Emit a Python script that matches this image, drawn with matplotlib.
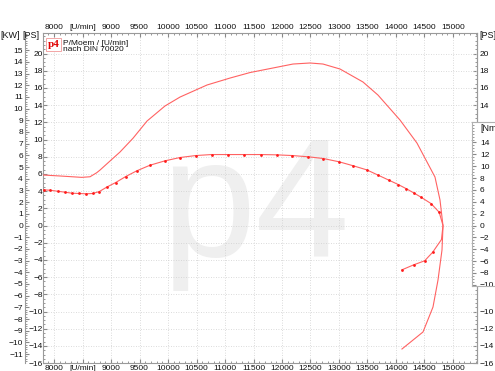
import matplotlib.pyplot as plt
from matplotlib.ticker import MultipleLocator, FixedLocator

plt.rcParams['font.family'] = ['Liberation Sans', 'DejaVu Sans']
plt.rcParams['font.size'] = 6

# Leistung [PS] ueber Drehzahl [U/min]
power_rpm = [7815, 8105, 8486, 8632, 8749, 8807, 8982, 9158, 9386, 9632, 9947, 10211,
             10684, 11088, 11439, 12193, 12491, 12719, 13018, 13421, 13684, 14070,
             14368, 14684, 14772, 14825, 14807, 14737, 14649, 14474, 14105]
power_ps = [5.87, 5.76, 5.60, 5.67, 6.14, 6.45, 7.50, 8.55, 10.15, 12.15, 13.9, 14.94,
            16.34, 17.15, 17.79, 18.78, 18.90, 18.78, 18.20, 16.69, 15.17, 12.27,
            9.59, 5.64, 2.97, -0.06, -2.85, -6.34, -9.48, -12.38, -14.36]

# Drehmoment [Nm] ueber Drehzahl [U/min]
torque_rpm = [7820, 7930, 8065, 8193, 8316, 8439, 8556, 8679, 8795, 8935, 9082, 9258,
              9451, 9684, 9947, 10211, 10486, 10767, 11047, 11339, 11626, 11907, 12181,
              12461, 12725, 13005, 13251, 13486, 13690, 13877, 14040, 14184, 14316,
              14433, 14614, 14758, 14825, 14798, 14644, 14503, 14316, 14105]
torque_nm = [6.02, 5.95, 5.78, 5.62, 5.45, 5.40, 5.35, 5.40, 5.73, 6.53, 7.25, 8.26,
             9.22, 10.17, 10.91, 11.47, 11.80, 11.97, 11.97, 11.97, 11.97, 11.92, 11.80,
             11.59, 11.30, 10.74, 10.07, 9.39, 8.48, 7.64, 6.91, 6.19, 5.48,
             4.81, 3.71, 2.24, 0.0, -2.36, -4.50, -5.95, -6.61, -7.47]
torque_marked = [i for i in range(len(torque_rpm)) if i not in (36, 37)]

rpm_ticks = list(range(8000, 15001, 500))
rpm_labels = [str(r) for r in rpm_ticks]
rpm_labels[1] = "[U/min]"

ps_ticks = list(range(-16, 21, 2))
ps_right_ticks = [20, 18, 16, 14, -10, -12, -14, -16]
kw_ticks = list(range(-11, 16))
nm_ticks = list(range(-10, 15, 2))

W, H = 495, 371
TXT = '#111111'
fig = plt.figure(figsize=(W / 100, H / 100), dpi=100)


def fx(px):
    return px / W


def fy(py):
    return 1 - py / H


# pixel scale: 0 at y=225.5, 8.6 px per PS, 5.93 px per Nm
ps_lo, ps_hi = -16, 22.4
ax = fig.add_axes([fx(43.3), fy(363.1), fx(476.7) - fx(43.3), fy(32.9) - fy(363.1)])
ax.set_xlim(7812, 15416)
ax.set_ylim(ps_lo, ps_hi)
for s in ax.spines.values():
    s.set_color('#9a9a9a')
    s.set_linewidth(0.8)

ax.xaxis.set_major_locator(FixedLocator(rpm_ticks))
ax.set_xticklabels(rpm_labels)
ax.xaxis.set_minor_locator(MultipleLocator(100))
ax.tick_params(axis='x', which='both', top=True, labeltop=True, bottom=True,
               labelbottom=True, direction='in', pad=1.2, colors='#888', labelcolor=TXT)
ax.tick_params(axis='x', which='major', length=3)
ax.tick_params(axis='x', which='minor', length=1.5)

ax.yaxis.set_major_locator(FixedLocator(ps_ticks))
ax.yaxis.set_minor_locator(MultipleLocator(0.5))
ax.tick_params(axis='y', which='both', direction='in', pad=0.5, colors='#888', labelcolor=TXT)
ax.tick_params(axis='y', which='major', length=3)
ax.tick_params(axis='y', which='minor', length=1.5)
ax.grid(True, color='#cfcfcf', linestyle=(0, (1, 2)), linewidth=0.6)

# KW axis on the far left
kw = ax.secondary_yaxis(-0.0422, functions=(lambda p: p * 0.7355, lambda k: k / 0.7355))
kw.yaxis.set_major_locator(FixedLocator(kw_ticks))
kw.yaxis.set_minor_locator(MultipleLocator(0.2))
kw.spines['left'].set_color('#9a9a9a')
kw.tick_params(axis='y', which='both', direction='in', pad=1.5, colors='#888', labelcolor=TXT)
kw.tick_params(axis='y', which='major', length=3)
kw.tick_params(axis='y', which='minor', length=1.5)

# PS scale on the right
psr = ax.secondary_yaxis('right')
psr.yaxis.set_major_locator(FixedLocator(ps_right_ticks))
psr.yaxis.set_minor_locator(MultipleLocator(0.5))
psr.spines['right'].set_color('#9a9a9a')
psr.tick_params(axis='y', which='both', direction='in', pad=2, colors='#888', labelcolor=TXT)
psr.tick_params(axis='y', which='major', length=3)
psr.tick_params(axis='y', which='minor', length=1.5)

# watermark
ax.text(fx(255), fy(256), "p4", transform=fig.transFigure, fontsize=122,
        color='#efefef', ha='center', va='baseline', zorder=0.5)

# power curve
ax.plot(power_rpm, power_ps, color='#ff6262', linewidth=0.8, zorder=3)

# torque curve on Nm scale
axt = ax.twinx()
axt.set_ylim(ps_lo * 8.6 / 5.93, ps_hi * 8.6 / 5.93)
axt.set_yticks([])
for s in axt.spines.values():
    s.set_visible(False)
axt.plot(torque_rpm, torque_nm, color='#ff6262', linewidth=0.8,
         marker='o', markersize=2, markerfacecolor='#ff1a1a', markeredgewidth=0,
         markevery=torque_marked)

# Nm box on the right
box = fig.add_axes([fx(471.7), fy(286), fx(40), fy(122) - fy(286)])
box.set_zorder(5)
box.set_facecolor('white')
box.set_xlim(0, 1)
box.set_ylim((225.5 - 286) / 5.93, (225.5 - 122) / 5.93)
box.set_xticks([])
box.yaxis.set_major_locator(FixedLocator(nm_ticks))
box.yaxis.set_minor_locator(MultipleLocator(0.5))
box.tick_params(axis='y', which='both', direction='in', pad=-6, colors='#888', labelcolor=TXT)
box.tick_params(axis='y', which='major', length=3)
box.tick_params(axis='y', which='minor', length=1.5)
for lab in box.get_yticklabels():
    lab.set_horizontalalignment('left')
for s in box.spines.values():
    s.set_color('#b0b0b0')
    s.set_linewidth(0.8)
box.text(fx(480), fy(129), "[Nm", transform=fig.transFigure, fontsize=6.5,
         color=TXT, va='center', ha='left')

# axis unit labels
fig.text(fx(0), fy(35), "[KW]", fontsize=6.5, color=TXT, va='center')
fig.text(fx(22), fy(35), "[PS]", fontsize=6.5, color=TXT, va='center')
fig.text(fx(479), fy(35.5), "[PS]", fontsize=6.5, color=TXT, va='center')

# legend in the top left corner
fig.text(fx(53.5), fy(44.5), "p4", fontsize=8, fontweight='bold', color='#e00000',
         family=['Liberation Serif', 'DejaVu Serif'], ha='center', va='center',
         bbox=dict(boxstyle='square,pad=0.15', facecolor='white', edgecolor='#f3a6a6',
                   linewidth=0.7))
fig.text(fx(63), fy(43.3), "P/Moem / [U/min]", fontsize=6, color=TXT, va='center')
fig.text(fx(63), fy(49.7), "nach DIN 70020", fontsize=6, color=TXT, va='center')

fig.savefig("out.png", dpi=100)
